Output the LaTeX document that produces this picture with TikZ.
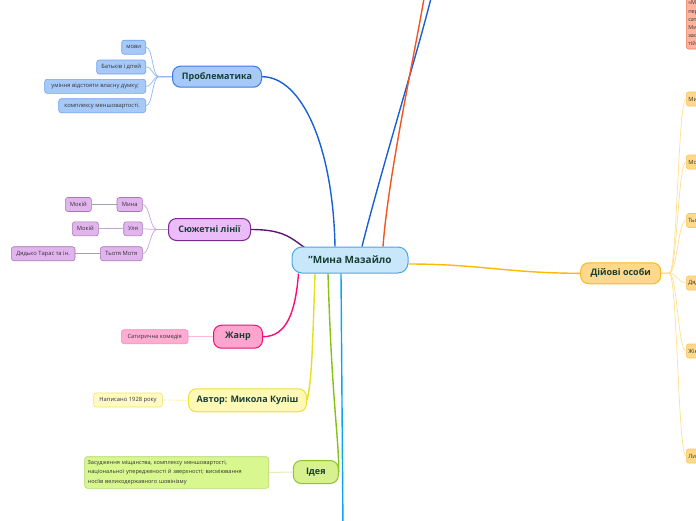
\documentclass[tikz,border=0pt]{standalone}
\usepackage{fontspec}
\setmainfont{Open Sans}
\usetikzlibrary{calc,backgrounds}
\definecolor{maintxt}{HTML}{173F35}
\definecolor{leaftxt}{HTML}{333333}
\definecolor{cfill}{HTML}{C8E7FA}
\definecolor{cbord}{HTML}{4BA6E2}
\definecolor{pfill}{HTML}{A6C9F8}
\definecolor{pbord}{HTML}{3A7DE6}
\definecolor{pline}{HTML}{1B5FD5}
\definecolor{plbord}{HTML}{6FA2EE}
\definecolor{plline}{HTML}{8DB6F2}
\definecolor{sfill}{HTML}{EBBDF8}
\definecolor{sbord}{HTML}{7A2A8C}
\definecolor{sline}{HTML}{5E1670}
\definecolor{slfill}{HTML}{E2B4EE}
\definecolor{slbord}{HTML}{A677B4}
\definecolor{slline}{HTML}{C9A6D2}
\definecolor{sgline}{HTML}{A8A0AA}
\definecolor{zfill}{HTML}{FFA3CF}
\definecolor{zbord}{HTML}{E8146F}
\definecolor{zline}{HTML}{FF0A78}
\definecolor{zlfill}{HTML}{FFADD2}
\definecolor{zlbord}{HTML}{FF86B8}
\definecolor{zlline}{HTML}{FFB8D8}
\definecolor{afill}{HTML}{FFF9B5}
\definecolor{abord}{HTML}{E9E13E}
\definecolor{aline}{HTML}{E5E01C}
\definecolor{alfill}{HTML}{FFFBC2}
\definecolor{albord}{HTML}{F1E66A}
\definecolor{alline}{HTML}{FFF3A0}
\definecolor{ifill}{HTML}{D6F18E}
\definecolor{ibord}{HTML}{8DC52A}
\definecolor{iline}{HTML}{84C213}
\definecolor{ilfill}{HTML}{D8F78F}
\definecolor{ilbord}{HTML}{B0D86A}
\definecolor{illine}{HTML}{E2F0B8}
\definecolor{dfill}{HTML}{FFD98B}
\definecolor{dbord}{HTML}{F7B925}
\definecolor{dline}{HTML}{FFB900}
\definecolor{dlline}{HTML}{FFDF8C}
\definecolor{dlbord}{HTML}{F8C65A}
\definecolor{ofill}{HTML}{FFB4A1}
\definecolor{obord}{HTML}{F07A5C}
\definecolor{oline}{HTML}{F05522}
\definecolor{cyline}{HTML}{0AA5F0}
\begin{document}
\begin{tikzpicture}[x=1pt,y=-1pt,
  mainbox/.style={draw, rounded corners=8pt, line width=1pt, font=\bfseries\fontsize{9}{11}\selectfont, text=maintxt, inner sep=0pt},
  leaf/.style={draw, rounded corners=2.5pt, line width=0.6pt, font=\fontsize{5.8}{6.8}\selectfont, text=leaftxt, minimum height=14pt, inner xsep=2pt, inner ysep=0pt},
  branch/.style={line width=1.4pt},
  twig/.style={line width=0.7pt}]
\useasboundingbox (0,0) rectangle (696,520);
\clip (0,0) rectangle (696,520);
% central node
\node[mainbox, fill=cfill, draw=cbord, minimum width=116pt, minimum height=26pt, rounded corners=10pt, font=\bfseries\fontsize{10}{12}\selectfont] (c) at (350,260) {\symbol{34}Мина Мазайло};
% main topics
\node[mainbox, fill=pfill, draw=pbord, minimum width=89pt, minimum height=21pt] (pr) at (217,76.7) {Проблематика};
\node[mainbox, fill=sfill, draw=sbord, minimum width=82pt, minimum height=22pt] (sj) at (209.5,229.5) {Сюжетні лінії};
\node[mainbox, fill=zfill, draw=zbord, minimum width=49pt, minimum height=23pt] (zh) at (238,336.7) {Жанр};
\node[mainbox, fill=afill, draw=abord, minimum width=118pt, minimum height=23pt] (av) at (247.5,400.3) {Автор: Микола Куліш};
\node[mainbox, fill=ifill, draw=ibord, minimum width=45pt, minimum height=23pt] (id) at (315.8,472) {Ідея};
\node[mainbox, fill=dfill, draw=dbord, minimum width=80pt, minimum height=21pt] (do) at (620.7,273.3) {Дійові особи};
% Problematyka leaves
\node[leaf, fill=pfill, draw=plbord, minimum width=24pt, anchor=east] (p1) at (146,47.2) {мови};
\node[leaf, fill=pfill, draw=plbord, minimum width=49pt, anchor=east] (p2) at (146,67) {Батьків і дітей};
\node[leaf, fill=pfill, draw=plbord, minimum width=101pt, anchor=east] (p3) at (146,86.3) {уміння відстояти власну думку;};
\node[leaf, fill=pfill, draw=plbord, minimum width=87pt, anchor=east] (p4) at (146,105.7) {комплексу меншовартості.};
% Syuzhet leaves
\node[leaf, fill=slfill, draw=slbord, minimum width=25.4pt, anchor=east] (s1) at (142.7,204.5) {Мина};
\node[leaf, fill=slfill, draw=slbord, minimum width=18.7pt, anchor=east] (s2) at (142.7,228.8) {Уля};
\node[leaf, fill=slfill, draw=slbord, minimum width=42pt, anchor=east] (s3) at (142.7,253.7) {Тьотя Мотя};
\node[leaf, fill=slfill, draw=slbord, minimum width=26pt, anchor=east] (s1a) at (91.7,204.5) {Мокій};
\node[leaf, fill=slfill, draw=slbord, minimum width=26pt, anchor=east] (s2a) at (98.7,228.8) {Мокій};
\node[leaf, fill=slfill, draw=slbord, minimum width=63.6pt, anchor=east] (s3a) at (75.3,253.7) {Дядько Тарас та ін.};
% Zhanr leaf
\node[leaf, fill=zlfill, draw=zlbord, minimum width=66.6pt, anchor=east] (z1) at (188.3,336.7) {Сатирична комедія};
% Avtor leaf
\node[leaf, fill=alfill, draw=albord, minimum width=68.7pt, anchor=east] (a1) at (162.7,400) {Написано 1928 року};
% Ideya leaf
\node[leaf, fill=ilfill, draw=ilbord, minimum width=184pt, minimum height=31.6pt, anchor=east, align=left, text width=178pt, inner xsep=3pt, font=\fontsize{5.6}{9.2}\selectfont] (i1) at (269,472.5) {Засудження міщанства, комплексу меншовартості,\\національної упередженості й зверхності; висміювання\\носіїв великодержавного шовінізму};
% Diyovi osoby leaves (cut by the right edge)
\node[leaf, fill=dfill, draw=dlbord, anchor=west] (d1) at (686,99) {Мина Мазайло};
\node[leaf, fill=dfill, draw=dlbord, anchor=west] (d2) at (686,162) {Мокій};
\node[leaf, fill=dfill, draw=dlbord, anchor=west] (d3) at (686,220.5) {Тьотя Мотя};
\node[leaf, fill=dfill, draw=dlbord, anchor=west] (d4) at (686,283) {Дядько Тарас};
\node[leaf, fill=dfill, draw=dlbord, anchor=west] (d5) at (686,351) {Жінки};
\node[leaf, fill=dfill, draw=dlbord, anchor=west] (d6) at (686,456) {Лина Мазайло};
% salmon box at top right (cut)
\node[leaf, fill=ofill, draw=obord, anchor=south west, align=left, inner ysep=3pt, inner xsep=2pt, font=\fontsize{5.5}{8.2}\selectfont] (ob) at (686,49.3) {«Мина Мазайло» –\\перша сатирична\\сатира на міщан\\Миколи Куліша,\\заснована на\\тій темі};
% free ends
\coordinate (tb) at (434,-15);
\coordinate (to) at (426,-15);
\coordinate (cy) at (343,530);
\begin{pgfonlayer}{background}
% main branches
\draw[branch, pline] ($(c.north)+(-15,0)$) .. controls +(-2,-100) and +(40,0) .. (pr.east);
\draw[branch, pline] ($(c.north)+(12,0)$) .. controls +(20,-80) and +(-8,40) .. (tb);
\draw[branch, oline] ($(c.north)+(33,0)$) .. controls +(6,-80) and +(-5,40) .. (to);
\draw[branch, sline] (sj.east) .. controls +(32,0) and +(-14,-10) .. ($(c.north west)+(13,1)$);
\draw[branch, zline] ($(c.south west)+(7,0)$) .. controls +(-3,38) and +(24,0) .. (zh.east);
\draw[branch, aline] ($(c.south)+(-35,0)$) .. controls +(-3,95) and +(4,-18) .. (av.east);
\draw[branch, iline] ($(c.south)+(-22,0)$) .. controls +(4,130) and +(0,-35) .. (id.east);
\draw[branch, cyline] ($(c.south)+(-9,0)$) -- (cy);
\draw[branch, dline] ($(c.east)+(0,4)$) .. controls +(70,0) and +(-70,0) .. (do.west);
% problematyka twigs
\foreach \n in {p1,p2,p3,p4}
  \draw[twig, plline] (pr.west) -- ++(-13,0) .. controls +(-7,0) and +(7,0) .. (\n.east);
% syuzhet twigs
\foreach \n in {s1,s2,s3}
  \draw[twig, slline] (sj.west) -- ++(-11,0) .. controls +(-7,0) and +(7,0) .. (\n.east);
\draw[twig, sgline] (s1.west) -- (s1a.east);
\draw[twig, slline] (s2.west) -- (s2a.east);
\draw[twig, sgline] (s3.west) -- (s3a.east);
% single twigs
\draw[twig, zlline] (zh.west) -- (z1.east);
\draw[twig, alline] (av.west) -- (a1.east);
\draw[twig, illine, line width=1pt] (id.west) -- (i1.east);
% diyovi osoby twigs
\foreach \n in {d1,d2,d3,d4,d5,d6}
  \draw[twig, dlline] (do.east) -- ++(8,0) .. controls +(8,0) and +(-8,0) .. (\n.west);
\end{pgfonlayer}
\end{tikzpicture}
\end{document}
